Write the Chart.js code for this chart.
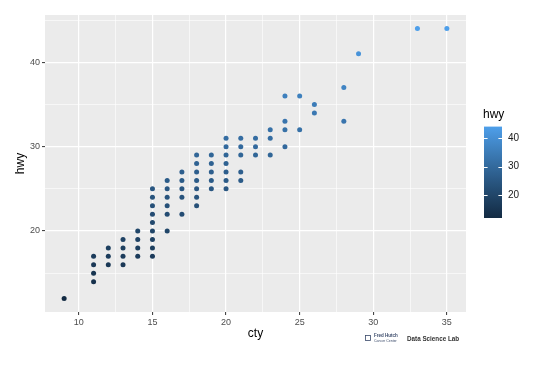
<!DOCTYPE html>
<html>
<head>
<meta charset="utf-8">
<script src="https://cdn.jsdelivr.net/npm/chart.js@4"></script>
<style>
  body { margin: 0; background: #ffffff; }
  #wrap { width: 540px; height: 386px; }
</style>
</head>
<body>
<div id="wrap"><canvas id="mpgChart" width="540" height="386"></canvas></div>
<script>
// mpg: city vs highway mileage (unique points)
const cty = [
  9,
  11, 11, 11, 11,
  12, 12, 12,
  13, 13, 13, 13,
  14, 14, 14, 14,
  15, 15, 15, 15, 15, 15, 15, 15, 15,
  16, 16, 16, 16, 16, 16,
  17, 17, 17, 17, 17,
  18, 18, 18, 18, 18, 18, 18,
  19, 19, 19, 19, 19,
  20, 20, 20, 20, 20, 20, 20,
  21, 21, 21, 21, 21,
  22, 22, 22,
  23, 23, 23,
  24, 24, 24, 24,
  25, 25,
  26, 26,
  28, 28,
  29,
  33, 35,
];
const hwy = [
  12,
  14, 15, 16, 17,
  16, 17, 18,
  16, 17, 18, 19,
  17, 18, 19, 20,
  17, 18, 19, 20, 21, 22, 23, 24, 25,
  20, 22, 23, 24, 25, 26,
  22, 24, 25, 26, 27,
  23, 24, 25, 26, 27, 28, 29,
  25, 26, 27, 28, 29,
  25, 26, 27, 28, 29, 30, 31,
  26, 27, 29, 30, 31,
  29, 30, 31,
  29, 31, 32,
  30, 32, 33, 36,
  32, 36,
  34, 35,
  33, 37,
  41,
  44, 44,
];
const xMajor = [10, 15, 20, 25, 30, 35];
const xMinor = [12.5, 17.5, 22.5, 27.5, 32.5];
const yMajor = [20, 30, 40];
const yMinor = [15, 25, 35, 45];
const legendTicks = [20, 30, 40];

const LOW = "#132B43";
const HIGH = "#4E9FEA";
const hwyMin = Math.min(...hwy);
const hwyMax = Math.max(...hwy);

// --- colour gradient in Lab space, like ggplot's seq_gradient_pal ---
function hexToRgb(h) {
  return [1, 3, 5].map((i) => parseInt(h.slice(i, i + 2), 16) / 255);
}
function toLin(c) {
  return c <= 0.04045 ? c / 12.92 : Math.pow((c + 0.055) / 1.055, 2.4);
}
function fromLin(c) {
  const v = c <= 0.0031308 ? 12.92 * c : 1.055 * Math.pow(c, 1 / 2.4) - 0.055;
  return Math.round(Math.min(1, Math.max(0, v)) * 255);
}
const WP = [0.95047, 1, 1.08883];
function rgbToLab(rgb) {
  const [r, g, b] = rgb.map(toLin);
  const xyz = [
    0.4124 * r + 0.3576 * g + 0.1805 * b,
    0.2126 * r + 0.7152 * g + 0.0722 * b,
    0.0193 * r + 0.1192 * g + 0.9505 * b,
  ].map((v, i) => v / WP[i]);
  const f = xyz.map((t) => (t > 0.008856 ? Math.cbrt(t) : 7.787 * t + 16 / 116));
  return [116 * f[1] - 16, 500 * (f[0] - f[1]), 200 * (f[1] - f[2])];
}
function labToRgb(lab) {
  const fy = (lab[0] + 16) / 116;
  const fx = fy + lab[1] / 500;
  const fz = fy - lab[2] / 200;
  const [x, y, z] = [fx, fy, fz].map((t, i) => {
    const t3 = t * t * t;
    return (t3 > 0.008856 ? t3 : (t - 16 / 116) / 7.787) * WP[i];
  });
  const r = 3.2406 * x - 1.5372 * y - 0.4986 * z;
  const g = -0.9689 * x + 1.8758 * y + 0.0415 * z;
  const b = 0.0557 * x - 0.204 * y + 1.057 * z;
  return "rgb(" + fromLin(r) + "," + fromLin(g) + "," + fromLin(b) + ")";
}
const labLow = rgbToLab(hexToRgb(LOW));
const labHigh = rgbToLab(hexToRgb(HIGH));
function colourFor(v) {
  const t = (v - hwyMin) / (hwyMax - hwyMin);
  return labToRgb(labLow.map((l, i) => l + (labHigh[i] - l) * t));
}

const points = cty.map((c, i) => ({ x: c, y: hwy[i] }));

const panelBg = {
  id: "panelBg",
  beforeDraw(chart) {
    const { ctx, chartArea: a } = chart;
    ctx.save();
    ctx.fillStyle = "#EBEBEB";
    ctx.fillRect(a.left, a.top, a.right - a.left, a.bottom - a.top);
    ctx.restore();
  },
};

// colourbar legend + footer credit
const colourBar = {
  id: "colourBar",
  afterDraw(chart) {
    const ctx = chart.ctx;
    const x0 = 484, w = 18, yTop = 126.6, yBot = 218;
    const yOf = (v) => yBot - ((v - hwyMin) / (hwyMax - hwyMin)) * (yBot - yTop);
    ctx.save();
    const grad = ctx.createLinearGradient(0, yBot, 0, yTop);
    for (let i = 0; i <= 20; i++) {
      grad.addColorStop(i / 20, colourFor(hwyMin + (i / 20) * (hwyMax - hwyMin)));
    }
    ctx.fillStyle = grad;
    ctx.fillRect(x0, yTop, w, yBot - yTop);

    ctx.strokeStyle = "#ffffff";
    ctx.lineWidth = 1;
    ctx.fillStyle = "#1A1A1A";
    ctx.font = "10px 'Liberation Sans', Arial, sans-serif";
    ctx.textBaseline = "middle";
    legendTicks.forEach((v) => {
      const y = Math.round(yOf(v)) + 0.5;
      ctx.beginPath();
      ctx.moveTo(x0, y); ctx.lineTo(x0 + 3.6, y);
      ctx.moveTo(x0 + w - 3.6, y); ctx.lineTo(x0 + w, y);
      ctx.stroke();
      ctx.fillText(String(v), 508, yOf(v));
    });

    ctx.font = "12px 'Liberation Sans', Arial, sans-serif";
    ctx.fillStyle = "#000000";
    ctx.textBaseline = "alphabetic";
    ctx.fillText("hwy", 483, 118);

    // credit line
    ctx.fillStyle = "#3a4a6a";
    ctx.font = "bold 4.5px 'Liberation Sans', Arial, sans-serif";
    ctx.fillText("Fred Hutch", 374, 337);
    ctx.font = "3.5px 'Liberation Sans', Arial, sans-serif";
    ctx.fillText("Cancer Center", 374, 341.5);
    ctx.strokeStyle = "#3a4a6a";
    ctx.lineWidth = 0.8;
    ctx.strokeRect(365.5, 335.5, 5, 5);
    ctx.fillStyle = "#333333";
    ctx.font = "bold 6.3px 'Liberation Sans', Arial, sans-serif";
    ctx.fillText("Data Science Lab", 407, 340.5);
    ctx.restore();
  },
};

function gridOpts(major) {
  return {
    color: "#ffffff",
    lineWidth: (c) => (major.includes(c.tick && c.tick.value) ? 1.2 : 0.6),
    drawTicks: true,
    tickLength: 3,
    tickWidth: 1,
    tickColor: (c) => (major.includes(c.tick && c.tick.value) ? "#333333" : "rgba(0,0,0,0)"),
  };
}

new Chart(document.getElementById("mpgChart"), {
  type: "scatter",
  data: {
    datasets: [
      {
        label: "hwy",
        data: points,
        pointRadius: 2.5,
        pointHoverRadius: 2.5,
        borderWidth: 0,
        backgroundColor: (c) => colourFor(c.raw ? c.raw.y : hwyMin),
      },
    ],
  },
  options: {
    responsive: false,
    animation: false,
    events: [],
    layout: { padding: { left: 0, top: 15, right: 74, bottom: 0 } },
    plugins: { legend: { display: false }, tooltip: { enabled: false } },
    scales: {
      x: {
        type: "linear",
        min: 7.7,
        max: 36.3,
        afterBuildTicks: (s) => {
          s.ticks = [...xMinor, ...xMajor].sort((a, b) => a - b).map((v) => ({ value: v }));
        },
        afterFit: (s) => { s.height = 74; },
        border: { display: false },
        grid: gridOpts(xMajor),
        ticks: {
          autoSkip: false,
          maxRotation: 0,
          padding: 2,
          color: "#4D4D4D",
          font: { family: "'Liberation Sans', Arial, sans-serif", size: 9 },
          callback: (v) => (xMajor.includes(v) ? String(v) : ""),
        },
        title: {
          display: true,
          text: "cty",
          color: "#000000",
          font: { family: "'Liberation Sans', Arial, sans-serif", size: 12 },
          padding: { top: 0, bottom: 44.8 },
        },
      },
      y: {
        type: "linear",
        min: 10.4,
        max: 45.6,
        afterBuildTicks: (s) => {
          s.ticks = [...yMinor, ...yMajor].sort((a, b) => a - b).map((v) => ({ value: v }));
        },
        afterFit: (s) => { s.width = 45; },
        border: { display: false },
        grid: gridOpts(yMajor),
        ticks: {
          autoSkip: false,
          padding: 2,
          color: "#4D4D4D",
          font: { family: "'Liberation Sans', Arial, sans-serif", size: 9 },
          callback: (v) => (yMajor.includes(v) ? String(v) : ""),
        },
        title: {
          display: true,
          text: "hwy",
          color: "#000000",
          font: { family: "'Liberation Sans', Arial, sans-serif", size: 12 },
          padding: { top: 13.3, bottom: 0 },
        },
      },
    },
  },
  plugins: [panelBg, colourBar],
});
</script>
</body>
</html>
